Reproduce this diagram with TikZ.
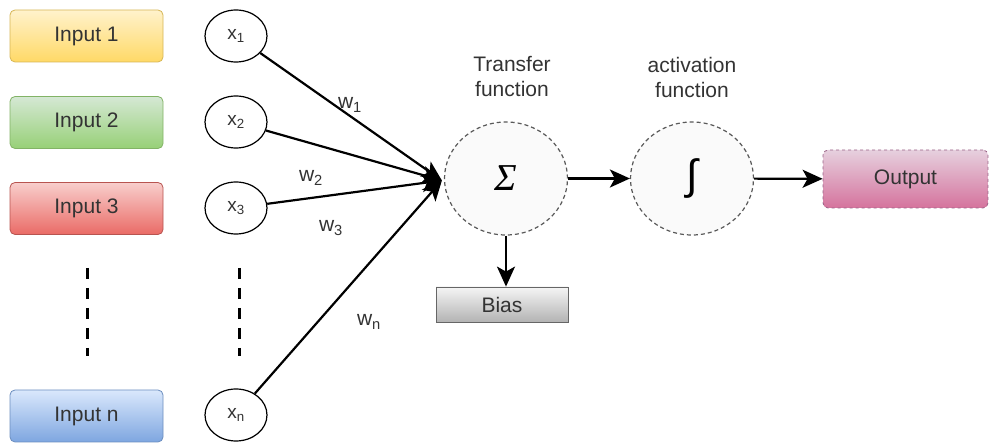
\documentclass[tikz,border=0pt]{standalone}
\usepackage{fontspec}
\setmainfont{Liberation Sans}
\newfontfamily\serifgreek{Liberation Serif}
\usetikzlibrary{shapes.geometric,arrows.meta,calc}
\definecolor{yelT}{HTML}{FFF2CC}\definecolor{yelB}{HTML}{FFD966}\definecolor{yelD}{HTML}{D6B656}
\definecolor{grnT}{HTML}{D5E8D4}\definecolor{grnB}{HTML}{97D077}\definecolor{grnD}{HTML}{82B366}
\definecolor{redT}{HTML}{F8CECC}\definecolor{redB}{HTML}{EA6B66}\definecolor{redD}{HTML}{B85450}
\definecolor{bluT}{HTML}{DAE8FC}\definecolor{bluB}{HTML}{7EA6E0}\definecolor{bluD}{HTML}{6C8EBF}
\definecolor{pnkT}{HTML}{E6D0DE}\definecolor{pnkB}{HTML}{D5739D}\definecolor{pnkD}{HTML}{996185}
\definecolor{gryT}{HTML}{F5F5F5}\definecolor{gryB}{HTML}{B3B3B3}\definecolor{gryD}{HTML}{666666}
\definecolor{txt}{HTML}{333333}
\begin{document}
\begin{tikzpicture}[x=1pt,y=-1pt,
  inbox/.style={rounded corners=5pt, minimum width=153pt, minimum height=52pt, inner sep=0pt,
    font=\fontsize{21}{24}\selectfont, text=txt, line width=0.8pt},
  xnode/.style={draw=black, line width=1.2pt, ellipse, fill=white, minimum width=62pt,
    minimum height=52pt, inner sep=0pt, font=\fontsize{19}{21}\selectfont, text=txt},
  fnode/.style={draw=black!65, dashed, dash pattern=on 4pt off 3pt, line width=1.2pt, ellipse, fill=black!2,
    minimum width=123pt, minimum height=113pt, inner sep=0pt},
  conn/.style={line width=2.2pt, -{Stealth[length=20pt,width=18pt,inset=5pt]}},
  lab/.style={font=\fontsize{21}{25}\selectfont, text=txt, align=center},
  wlab/.style={font=\fontsize{21}{24}\selectfont, text=txt},
  dots/.style={line width=3pt, dash pattern=on 11pt off 9pt}
]
\useasboundingbox (0,0) rectangle (989,443);

% input boxes
\node[inbox, draw=yelD, top color=yelT, bottom color=yelB] (in1) at (86.5,36) {Input 1};
\node[inbox, draw=grnD, top color=grnT, bottom color=grnB] (in2) at (86.5,122.5) {Input 2};
\node[inbox, draw=redD, top color=redT, bottom color=redB] (in3) at (86.5,208.5) {Input 3};
\node[inbox, draw=bluD, top color=bluT, bottom color=bluB] (inn) at (86.5,416) {Input n};

% x nodes
\node[xnode] (x1) at (236,36) {x\textsubscript{1}};
\node[xnode] (x2) at (236,122) {x\textsubscript{2}};
\node[xnode] (x3) at (236,208) {x\textsubscript{3}};
\node[xnode] (xn) at (236,415) {x\textsubscript{n}};

% dotted continuations
\draw[dots] (87,268) -- (87,356);
\draw[dots] (239,268) -- (239,356);

% function nodes
\node[fnode] (sigma) at (506,178.5) {{\serifgreek\itshape\fontsize{38}{40}\selectfont Σ}};
\node[fnode] (act) at (692,178.5) {{\fontsize{42}{44}\selectfont ∫}};

\node[lab] (tlab) at (512,77) {Transfer\\function};
\node[lab] (alab) at (692,77) {activation\\function};

% weight labels
\node[wlab] (w1) at (350,105) {w\textsubscript{1}};
\node[wlab] (w2) at (311,178) {w\textsubscript{2}};
\node[wlab] (w3) at (331,228) {w\textsubscript{3}};
\node[wlab] (wn) at (369,322) {w\textsubscript{n}};

% bias and output
\node[draw=gryD, line width=0.8pt, top color=gryT, bottom color=gryB, minimum width=132pt,
  minimum height=35pt, inner sep=0pt, font=\fontsize{21}{24}\selectfont, text=txt] (bias) at (502,304.5) {Bias};
\node[draw=pnkD, dashed, line width=0.8pt, rounded corners=5pt, top color=pnkT, bottom color=pnkB,
  minimum width=165pt, minimum height=58pt, inner sep=0pt, font=\fontsize{21}{24}\selectfont, text=txt] (out) at (905.5,179) {Output};

% connectors
\coordinate (conv) at ($(sigma.west)+(-2,2)$);
\draw[conn] (x1) -- (conv);
\draw[conn] (x2) -- (conv);
\draw[conn] (x3) -- (conv);
\draw[conn] (xn) -- (conv);
\draw[conn] (sigma) -- (act);
\draw[conn] (act) -- (out);
\draw[conn] (sigma.south) -- (sigma.south |- bias.north);
\end{tikzpicture}
\end{document}
